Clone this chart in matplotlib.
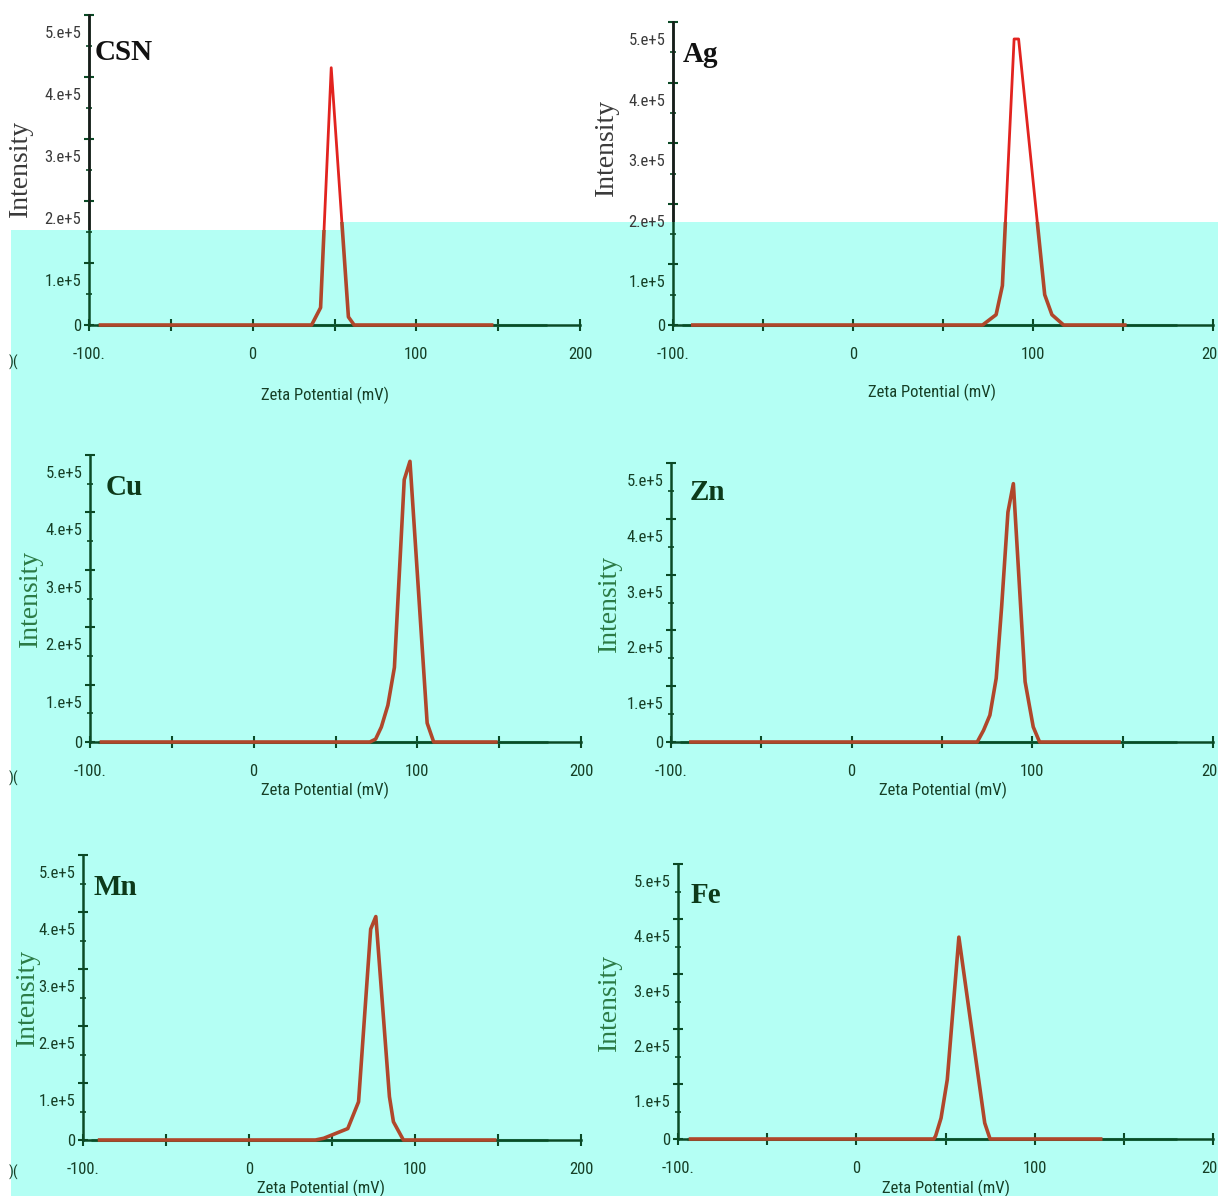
import matplotlib
matplotlib.use("Agg")
import matplotlib.pyplot as plt
import matplotlib.transforms as mtransforms
from matplotlib.patches import Polygon
from matplotlib.ticker import FixedLocator, FixedFormatter
from matplotlib import font_manager as fm

# ---------------- data ----------------
panel_names = ["CSN", "Ag", "Cu", "Zn", "Mn", "Fe"]

zeta_csn = [-93, 36, 41.5, 48, 58.5, 62, 146]
int_csn = [0, 0, 28000, 415000, 13000, 0, 0]

zeta_ag = [-89, 72, 79.5, 83, 89.5, 92, 106.5, 110.5, 117, 151]
int_ag = [0, 0, 17000, 65000, 472000, 472000, 50000, 17000, 0, 0]

zeta_cu = [-93, 71, 74.5, 78, 82, 86, 92, 95.5, 106, 110, 148]
int_cu = [0, 0, 5000, 26000, 64000, 130000, 457000, 489000, 33000, 0, 0]

zeta_zn = [-89, 69.5, 73, 76.5, 80, 83, 86.5, 89.5, 96, 100.5, 104, 148]
int_zn = [0, 0, 21000, 48000, 114000, 242000, 412000, 463000, 108000, 27000, 0, 0]

zeta_mn = [-90, 40, 45, 59.5, 66, 73.3, 76.4, 84.6, 87, 93, 148]
int_mn = [0, 0, 3000, 20000, 67000, 370000, 392000, 76000, 32000, 0, 0]

zeta_fe = [-93, 43.5, 44.5, 47.5, 51, 57.5, 72, 75, 137]
int_fe = [0, 0, 6000, 38000, 108000, 367000, 29000, 0, 0]

series = {
    "CSN": (zeta_csn, int_csn),
    "Ag": (zeta_ag, int_ag),
    "Cu": (zeta_cu, int_cu),
    "Zn": (zeta_zn, int_zn),
    "Mn": (zeta_mn, int_mn),
    "Fe": (zeta_fe, int_fe),
}

x_ticks = [-100, -50, 0, 50, 100, 150, 200]
x_ticklabels = ["-100.", "", "0", "", "100", "", "200"]
y_ticks = [0, 100000, 200000, 300000, 400000, 500000]
y_ticklabels = ["0", "1.e+5", "2.e+5", "3.e+5", "4.e+5", "5.e+5"]
y_minor = [50000, 150000, 250000, 350000, 450000]
baseline_span = [-95, 180]
x_label = "Zeta Potential (mV)"
y_label = "Intensity"

# ---------------- layout (pixels) ----------------
W, H = 1218, 1196
layout = {
    "CSN": dict(L=89, R=580, Y0=325, T=15, title=(95, 60), xl=(325, 395), yl=(20, 168), top=True),
    "Ag": dict(L=673, R=1213, Y0=325, T=22, title=(683, 62), xl=(932, 392), yl=(606, 147), top=True),
    "Cu": dict(L=90, R=581, Y0=742, T=455, title=(106, 495), xl=(325, 790), yl=(30, 598), top=False),
    "Zn": dict(L=671, R=1213, Y0=742, T=463, title=(690, 500), xl=(943, 790), yl=(609, 603), top=False),
    "Mn": dict(L=83, R=581, Y0=1140, T=855, title=(94, 895), xl=(321, 1188), yl=(27, 997), top=False),
    "Fe": dict(L=678, R=1213, Y0=1139, T=864, title=(691, 903), xl=(946, 1188), yl=(609, 1002), top=False),
}

CYAN = "#B4FFF4"
BROWN = "#B0472B"
RED = "#E2231F"
AXGREEN = "#0B4A26"
TXTGREEN = "#163F26"
ZEROGREEN = "#2E9E72"
YLGREEN = "#2B7A45"
DARK = "#1A1A1A"
GRAY = "#3A3A3A"


def pick(cands):
    for c in cands:
        try:
            fm.findfont(fm.FontProperties(family=c), fallback_to_default=False)
            return c
        except Exception:
            pass
    return "DejaVu Sans"


NARROW = pick(["Liberation Sans Narrow", "Arial Narrow", "Roboto Condensed",
               "Open Sans Condensed", "Noto Sans Condensed", "DejaVu Sans Condensed",
               "Liberation Sans"])
SERIF = pick(["Liberation Serif", "Times New Roman", "DejaVu Serif"])
narrow_found = NARROW != "Liberation Sans"
TICKSIZE = 12 if narrow_found else 11
XLSIZE = 12 if narrow_found else 10.5

fig = plt.figure(figsize=(W / 100, H / 100), dpi=100, facecolor="white")
pxT = mtransforms.Affine2D().scale(1 / W, -1 / H).translate(0, 1) + fig.transFigure

# background: cyan region and white top strip
cyan_pts = [(11, 230), (340, 230), (340, 222), (W, 222), (W, H), (11, H)]
fig.add_artist(Polygon(cyan_pts, closed=True, transform=pxT, facecolor=CYAN,
                       edgecolor="none", zorder=-10))
white_clip = Polygon([(-5, -5), (W + 5, -5), (W + 5, 222), (340, 222), (340, 230), (-5, 230)],
                     closed=True, transform=pxT)
cyan_clip = Polygon([(-5, 230), (340, 230), (340, 222), (W + 5, 222), (W + 5, H + 5), (-5, H + 5)],
                    closed=True, transform=pxT)

shift = mtransforms.ScaledTranslation(0, -17 / 100, fig.dpi_scale_trans)

for name in panel_names:
    lay = layout[name]
    L, R, Y0, T = lay["L"], lay["R"], lay["Y0"], lay["T"]
    ax = fig.add_axes([L / W, 1 - Y0 / H, (R - L) / W, (Y0 - T) / H])
    ax.set_facecolor("none")
    ax.set_xlim(-100, 200)
    ax.set_ylim(0, 500000)
    for s in ("top", "right"):
        ax.spines[s].set_visible(False)
    ax.spines["left"].set_color(AXGREEN)
    ax.spines["left"].set_linewidth(1.8)
    ax.spines["bottom"].set_color(AXGREEN)
    ax.spines["bottom"].set_linewidth(1.8)

    ax.xaxis.set_major_locator(FixedLocator(x_ticks))
    ax.xaxis.set_major_formatter(FixedFormatter(x_ticklabels))
    ax.yaxis.set_major_locator(FixedLocator(y_ticks))
    ax.yaxis.set_major_formatter(FixedFormatter(y_ticklabels))
    ax.yaxis.set_minor_locator(FixedLocator(y_minor))

    ax.tick_params(axis="x", which="major", direction="inout", length=8, width=1.5,
                   color=AXGREEN, labelcolor=TXTGREEN, labelsize=TICKSIZE, pad=12)
    ax.tick_params(axis="y", which="major", direction="inout", length=7, width=1.5,
                   color=AXGREEN, labelcolor=TXTGREEN, labelsize=TICKSIZE, pad=2)
    ax.tick_params(axis="y", which="minor", direction="inout", length=5, width=1.2,
                   color=AXGREEN)
    for lab in ax.get_xticklabels() + ax.get_yticklabels():
        lab.set_fontfamily(NARROW)

    # y tick labels sit a little below their ticks (except zero)
    for tick, val in zip(ax.yaxis.get_major_ticks(), y_ticks):
        if val > 0:
            tick.label1.set_transform(tick.label1.get_transform() + shift)
        if lay["top"] and val >= 200000:
            tick.tick1line.set_color(DARK)
            tick.label1.set_color(GRAY)
    if lay["top"]:
        for tick, val in zip(ax.yaxis.get_minor_ticks(), y_minor):
            if val >= 200000:
                tick.tick1line.set_color(DARK)

    # zero reference line
    ax.plot(baseline_span, [0, 0], color=ZEROGREEN, lw=2.2, clip_on=False, zorder=2,
            solid_capstyle="butt")

    xs, ys = series[name]
    if lay["top"]:
        lb, = ax.plot(xs, ys, color=BROWN, lw=2.6, zorder=3)
        lb.set_clip_box(None)
        lb.set_clip_path(cyan_clip)
        lr, = ax.plot(xs, ys, color=RED, lw=2.0, zorder=3)
        lr.set_clip_box(None)
        lr.set_clip_path(white_clip)
        sp, = ax.plot([0, 0], [0, 1], transform=ax.transAxes, color=DARK, lw=1.8, zorder=4)
        sp.set_clip_box(None)
        sp.set_clip_path(white_clip)
    else:
        ax.plot(xs, ys, color=BROWN, lw=2.6, zorder=3, clip_on=False)

    top = lay["top"]
    # axis labels
    ax.set_xlabel(x_label, fontsize=XLSIZE, color=TXTGREEN, fontfamily=NARROW, va="center")
    ax.xaxis.set_label_coords((lay["xl"][0] - L) / (R - L), (Y0 - lay["xl"][1]) / (Y0 - T))
    ax.set_ylabel(y_label, fontsize=20, color=GRAY if top else YLGREEN, fontfamily=SERIF,
                  va="center", ha="center")
    ax.yaxis.set_label_coords((lay["yl"][0] - L) / (R - L), (Y0 - lay["yl"][1]) / (Y0 - T))

    # panel label
    ax.text((lay["title"][0] - L) / (R - L), (Y0 - lay["title"][1]) / (Y0 - T), name,
            transform=ax.transAxes, ha="left", va="baseline", fontsize=21,
            fontweight="bold", fontfamily=SERIF, color="#111111" if top else "#0D3A1A")

# fragments of a neighbouring panel visible at the left edge
for (fx, fy) in [(13, 362), (13, 778), (13, 1172)]:
    fig.text(fx / W, 1 - fy / H, ")(", fontsize=11, color=TXTGREEN, fontfamily=NARROW,
             ha="center", va="center")

fig.savefig("out.png", dpi=100, facecolor="white")
